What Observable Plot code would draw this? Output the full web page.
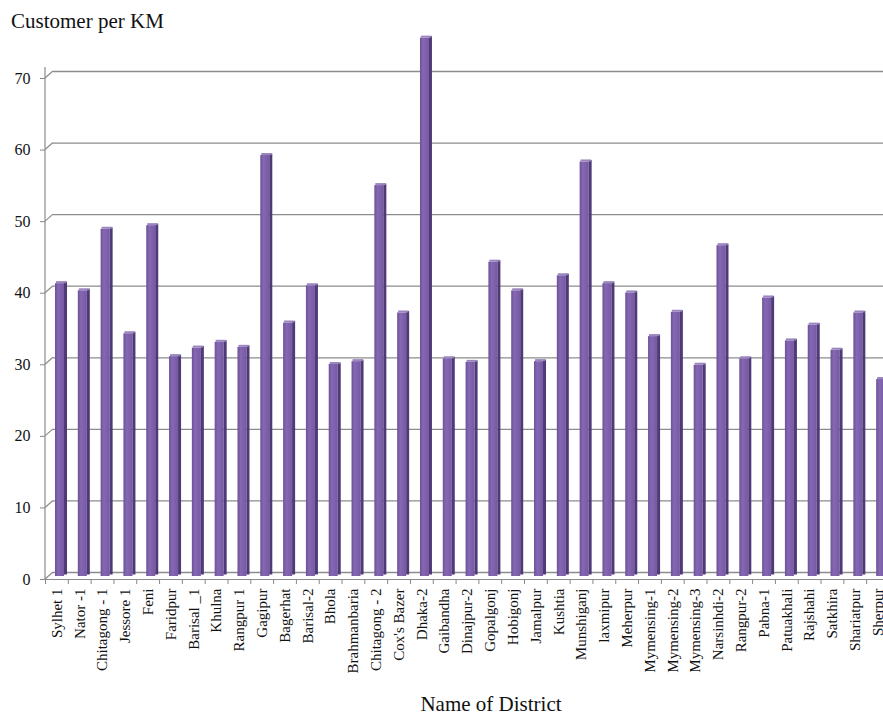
<!DOCTYPE html>
<html><head><meta charset="utf-8">
<script src="https://cdn.jsdelivr.net/npm/d3@7"></script>
<script src="https://cdn.jsdelivr.net/npm/@observablehq/plot@0.6"></script>
<style>
body{margin:0;background:#fff;}
#wrap{position:relative;width:883px;height:715px;overflow:hidden;}
.t{position:absolute;font-family:"Liberation Serif","Tinos","Times New Roman","DejaVu Serif",serif;color:#111;line-height:1;white-space:nowrap;}
</style></head><body>
<div id="wrap">
<div class="t" style="left:11px;top:11px;font-size:21px">Customer per KM</div>
<div class="t" style="left:381px;width:220px;text-align:center;top:694px;font-size:21px">Name of District</div>
</div>
<script>
const districts = ["Sylhet 1","Nator -1","Chitagong - 1","Jessore 1","Feni","Faridpur","Barisal _1","Khulna","Rangpur 1","Gagipur","Bagerhat","Barisal-2","Bhola","Brahmanbaria","Chitagong - 2","Cox's Bazer","Dhaka-2","Gaibandha","Dinajpur-2","Gopalgonj","Hobigonj","Jamalpur","Kushtia","Munshiganj","laxmipur","Meherpur","Mymensing-1","Mymensing-2","Mymensing-3","Narsinhdi-2","Rangpur-2","Pabna-1","Patuakhali","Rajshahi","Satkhira","Shariatpur","Sherpur"];
const values = [40.5,39.5,48.1,33.5,48.6,30.3,31.5,32.3,31.6,58.4,35.0,40.2,29.2,29.6,54.2,36.4,74.8,30.0,29.5,43.5,39.5,29.6,41.6,57.5,40.5,39.2,33.1,36.5,29.1,45.8,30.0,38.5,32.5,34.7,31.2,36.4,27.1];
const yTicks = [0,10,20,30,40,50,60,70];

const data = districts.map((d,i)=>({district:d, value:values[i]}));
const step = 22.81, x0 = 45;
const serif = "'Liberation Serif','Tinos','Times New Roman','DejaVu Serif',serif";

const plot = Plot.plot({
  width:883, height:715,
  marginLeft:45, marginRight:0, marginTop:78, marginBottom:136,
  x:{domain:districts, range:[x0, x0 + districts.length*step], padding:0, round:false},
  y:{domain:[0,70], range:[579,78]},
  style:{fontFamily:serif, background:"transparent", overflow:"hidden"},
  marks:[
    Plot.ruleY(yTicks, {y:d=>d, stroke:"#8c8c8c", strokeWidth:1.3, dy:-7, insetLeft:8}),
    Plot.ruleY([0], {y:d=>d, stroke:"#8c8c8c", strokeWidth:1.2}),
    Plot.rectY(data, {x:"district", y:"value", fill:"url(#frontGrad)", insetLeft:10, insetRight:3.8, dy:-6, insetBottom:-3}),
    Plot.rectY(data, {x:"district", y:"value", fill:"#4f3a78", insetLeft:19, insetRight:0.8, dy:-7.5, insetBottom:-3}),
    Plot.rectY(data, {x:"district", y1:"value", y2:"value", fill:"#9a85bf", insetLeft:11, insetRight:1.5, insetTop:-1, insetBottom:-1, dy:-7}),
    Plot.axisY({ticks:yTicks, tickSize:5, tickPadding:10, fontSize:16, stroke:"#888", fill:"#111", label:null}),
    Plot.axisX({tickSize:5, dx:-step/2, tickFormat:()=>"", stroke:"#888", label:null}),
    Plot.axisX({tickSize:0, tickRotate:-90, tickPadding:9, fontSize:15, fill:"#111", label:null})
  ]
});

const svg = d3.select(plot);
const defs = svg.insert("defs", ":first-child");
const g = defs.append("linearGradient").attr("id","frontGrad").attr("x1","0").attr("x2","1").attr("y1","0").attr("y2","0");
g.append("stop").attr("offset","0%").attr("stop-color","#6c5296");
g.append("stop").attr("offset","35%").attr("stop-color","#8567b3");
g.append("stop").attr("offset","100%").attr("stop-color","#7659a3");

const y = plot.scale("y");
const ax = svg.append("g").attr("stroke","#8c8c8c").attr("stroke-width",1.2).attr("fill","none");
ax.append("line").attr("x1",x0).attr("x2",x0).attr("y1",y.apply(70)-11).attr("y2",y.apply(0)+1);
yTicks.forEach(v=>{
  ax.append("line").attr("x1",x0).attr("y1",y.apply(v)).attr("x2",x0+8).attr("y2",y.apply(v)-7);
});

document.getElementById("wrap").appendChild(plot);
plot.style.position="absolute"; plot.style.left="0"; plot.style.top="0";
</script>
</body></html>
